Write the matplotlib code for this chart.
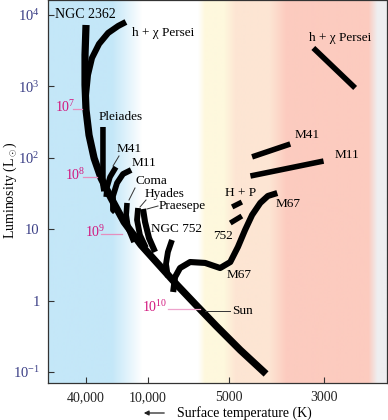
import numpy as np
import matplotlib
matplotlib.use("Agg")
import matplotlib.pyplot as plt
from matplotlib.lines import Line2D

plt.rcParams['font.family'] = ['Liberation Serif', 'DejaVu Serif']
plt.rcParams['mathtext.fontset'] = 'custom'
plt.rcParams['mathtext.rm'] = 'Liberation Serif'
plt.rcParams['mathtext.it'] = 'Liberation Serif:italic'

# ---------------- data (surface temperature K, luminosity Lsun) ----------------
ms_T = [40000, 40900, 40900, 40000, 37400, 33400, 28600, 22900, 17100, 11700,
        9180, 7800, 6640, 5580, 4710, 4100]
ms_L = [7240, 2760, 1050, 468, 208, 99, 52, 27.4, 12.6, 6.0,
        3.26, 1.65, 0.87, 0.44, 0.203, 0.094]

hx_T = [16400, 19500, 24400, 29900, 35000, 38300, 40000]
hx_L = [7980, 7010, 5600, 3930, 2500, 1445, 759]

pleiades_T = [27400, 27400, 26800]
pleiades_L = [270, 41.6, 34]

m41_T = [20500, 23400, 25000, 25500]
m41_L = [74, 53.8, 39, 28.3]

m11_T = [14600, 17500, 20000, 21900, 21900, 20900]
m11_L = [67.5, 59.3, 44.4, 29.2, 18.6, 17.4]

coma_T = [16000, 16300, 15600, 13700]
coma_L = [23.3, 15.8, 10.4, 6.6]

hyades_T = [12500, 12800, 12000, 10500]
hyades_L = [19.8, 13.5, 8.3, 5.5]

praesepe_T = [11200, 10700, 9920, 9420]
praesepe_L = [19.2, 12.6, 7.5, 4.8]

ngc752_T = [8150, 8440, 8580, 8440]
ngc752_L = [7.06, 4.8, 3.26, 2.14]

m67_T = [8070, 7940, 7610, 6980, 6140, 5400, 4970, 4770, 4590, 4420, 4230, 4060, 3860]
m67_L = [1.32, 2.14, 2.86, 3.47, 3.37, 2.86, 3.47, 5.64, 9.75, 15.8, 23.3, 29.2, 32.1]

hp_T = [4920, 4670]
hp_L = [20.5, 24.0]
d752_T = [4970, 4670]
d752_L = [12.2, 15.3]

hx_giant_T = [3180, 2540]
hx_giant_L = [3450, 950]
m41_giant_T = [4420, 3600]
m41_giant_L = [103, 156]
m11_giant_T = [4460, 3010]
m11_giant_L = [55.6, 90]

x_ticks = [40000, 10000, 5000, 3000]
x_ticklabels = ['40,000', '10,000', '5000', '3000']
y_ticks = [0.1, 1, 10, 100, 1000, 10000]
y_ticklabels = [r'$10^{-1}$', '1', '10', r'$10^{2}$', r'$10^{3}$', r'$10^{4}$']

# ---------------- temperature scale (nonlinear, like the original) ----------------
_logT = np.array([2.0, 3.477, 3.699, 4.0, 4.602, 6.0])
_pos = np.array([-956.0, -324.0, -229.0, -148.0, -86.0, 58.0])   # increasing with T

def fwd(t):
    t = np.clip(np.asarray(t, dtype=float), 1e-3, None)
    return np.interp(np.log10(t), _logT, _pos)

def inv(p):
    p = np.asarray(p, dtype=float)
    return 10 ** np.interp(p, _pos, _logT)

W, H = 388, 420
fig = plt.figure(figsize=(W / 100, H / 100), dpi=100)
ax = fig.add_axes([48 / W, 37 / H, 339 / W, 383 / H])
ax.set_xscale('function', functions=(fwd, inv))
ax.set_yscale('log')
ax.set_xlim(93500, 2140)
ax.set_ylim(0.0702, 16200)

# ---------------- background bands ----------------
px = np.arange(48, 388)
stops_x = [48, 112, 142, 198, 205, 224, 236, 270, 287, 369, 378, 388]
blue = (196, 231, 248); white = (255, 255, 255); yellow = (254, 248, 221)
peach = (253, 229, 211); pink = (252, 203, 191); gray = (238, 238, 240)
stops_c = [blue, blue, white, white, yellow, yellow, peach, peach, pink, pink, gray, gray]
cols = np.array(stops_c, dtype=float) / 255
img = np.stack([np.interp(px, stops_x, cols[:, k]) for k in range(3)], axis=-1)[None, :, :]
ax.imshow(img, extent=[0, 1, 0, 1], transform=ax.transAxes, aspect='auto', zorder=0)

# ---------------- curves ----------------
kw = dict(color='black', solid_capstyle='butt', solid_joinstyle='round', zorder=3)
for T, L, w in [(ms_T, ms_L, 5.2), (hx_T, hx_L, 4.4), (pleiades_T, pleiades_L, 4.0),
                (m41_T, m41_L, 4.0), (m11_T, m11_L, 4.2), (coma_T, coma_L, 4.0),
                (hyades_T, hyades_L, 4.2), (praesepe_T, praesepe_L, 4.4),
                (ngc752_T, ngc752_L, 4.2), (m67_T, m67_L, 4.4),
                (hp_T, hp_L, 3.8), (d752_T, d752_L, 3.8),
                (hx_giant_T, hx_giant_L, 4.0), (m41_giant_T, m41_giant_L, 4.0),
                (m11_giant_T, m11_giant_L, 4.0)]:
    ax.plot(T, L, lw=w, **kw)

# ---------------- axes styling ----------------
navy = '#3b3f86'
ax.set_xticks(x_ticks)
ax.set_xticklabels(x_ticklabels)
ax.set_yticks(y_ticks)
ax.set_yticklabels(y_ticklabels)
ax.minorticks_off()
ax.tick_params(axis='both', direction='in', length=4, width=0.8, color='#333333')
ax.tick_params(axis='x', labelsize=10, labelcolor='#222222', pad=6)
ax.tick_params(axis='y', labelsize=10.5, labelcolor=navy, pad=6)
for s in ax.spines.values():
    s.set_color('#333333')
    s.set_linewidth(0.9)

# ---------------- annotations (figure pixel coordinates) ----------------
def ptext(x, y, s, **k):
    k.setdefault('fontsize', 9.5)
    k.setdefault('va', 'center')
    k.setdefault('ha', 'left')
    fig.text(x / W, 1 - y / H, s, **k)

def pline(xs, ys, color='#333333', lw=0.7):
    fig.add_artist(Line2D([x / W for x in xs], [1 - y / H for y in ys],
                          color=color, lw=lw, zorder=4))

ptext(55, 15, 'NGC 2362', fontsize=10)
ptext(132, 33, 'h + \u03c7 Persei', fontsize=9.5)
ptext(99, 117, 'Pleiades')
ptext(117, 149, 'M41')
ptext(132, 163, 'M11')
ptext(135, 181, 'Coma')
ptext(145, 194, 'Hyades')
ptext(159, 206, 'Praesepe')
ptext(151, 229, 'NGC 752')
ptext(225, 193, 'H + P')
ptext(213, 236, '752')
ptext(227, 275, 'M67')
ptext(276, 204, 'M67')
ptext(232, 311, 'Sun')
ptext(309, 38, 'h + \u03c7 Persei')
ptext(295, 135, 'M41')
ptext(335, 155, 'M11')

pline([119, 113], [156, 166])
pline([135, 129], [188, 200])
pline([146, 140], [200, 207])
pline([158, 147], [206, 209])
pline([205, 230], [311, 311])

mag = '#d2177e'
ptext(55, 107, r'$10^{7}$', color=mag, fontsize=10)
pline([73, 82], [109, 109], color='#e58fbe', lw=0.9)
ptext(65, 175, r'$10^{8}$', color=mag, fontsize=10)
pline([83, 97], [177, 177], color='#e58fbe', lw=0.9)
ptext(85, 232, r'$10^{9}$', color=mag, fontsize=10)
pline([101, 122], [234, 234], color='#e58fbe', lw=0.9)
ptext(142, 307, r'$10^{10}$', color=mag, fontsize=10)
pline([168, 200], [309, 309], color='#eda3cc', lw=0.9)

fig.text(10 / W, 1 - 190 / H, r'Luminosity (L$_\odot$)', rotation=90,
         ha='center', va='center', fontsize=10)
ptext(177, 413, 'Surface temperature (K)', fontsize=10)
fig.add_artist(matplotlib.patches.FancyArrowPatch(
    (167 / W, 1 - 413 / H), (141 / W, 1 - 413 / H), transform=fig.transFigure,
    arrowstyle='-|>', mutation_scale=7, lw=0.9, color='#222222'))

fig.savefig('out.png', dpi=100)
